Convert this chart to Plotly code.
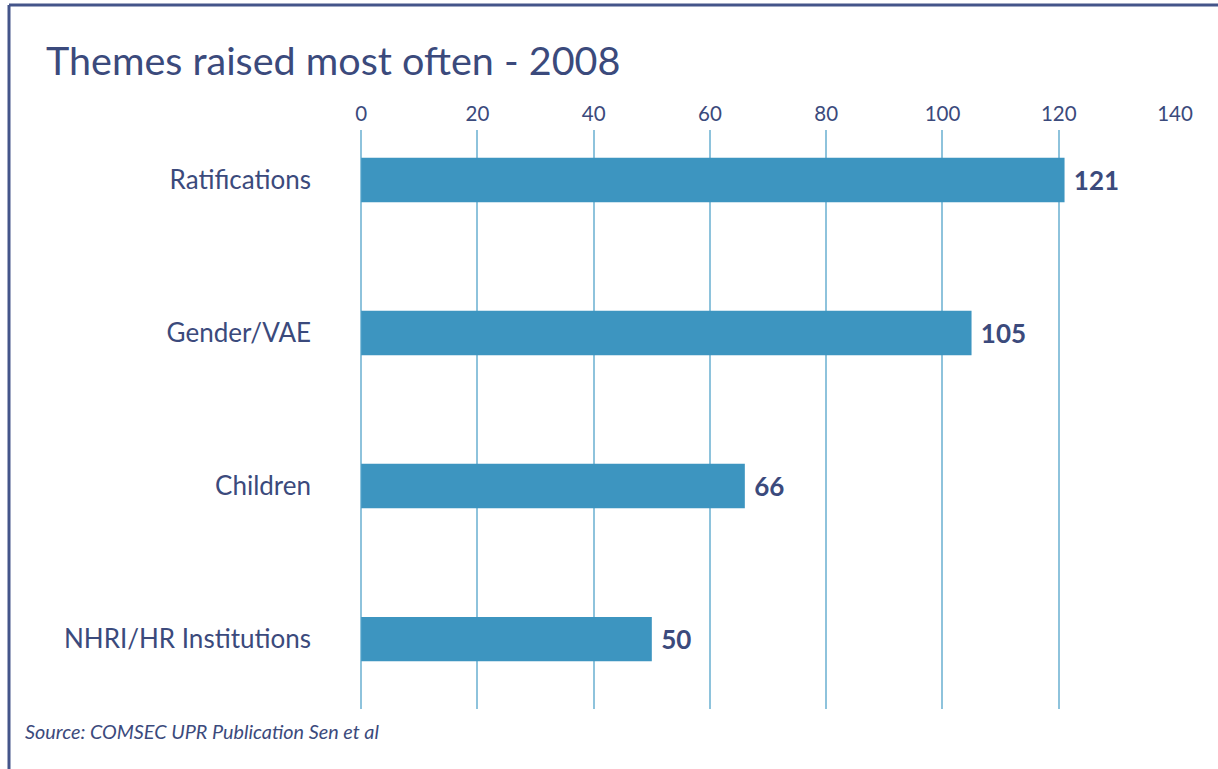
import plotly.graph_objects as go

categories = ["Ratifications", "Gender/VAE", "Children", "NHRI/HR Institutions"]
values = [121, 105, 66, 50]
tick_vals = [0, 20, 40, 60, 80, 100, 120, 140]

NAVY = "#3b4a7c"
BAR = "#3d95c0"
GRID = "#8ec3dc"
FONT = "Lato"

W, H = 1218, 769
L, R, T, B = 360, 1175, 130, 709

fig = go.Figure(go.Bar(
    x=values, y=categories, orientation="h",
    marker=dict(color=BAR, line=dict(width=0)),
    width=0.29,
    text=[f" {v}" for v in values], textposition="outside",
    textfont=dict(family=FONT, size=26, color=NAVY, weight="bold"),
    cliponaxis=False,
))

def px(x):
    return (x - L) / (R - L)

def py(y):
    return (B - y) / (B - T)

fig.update_layout(
    width=W, height=H,
    margin=dict(l=L, r=W - R, t=T, b=H - B, autoexpand=False),
    paper_bgcolor="white", plot_bgcolor="white",
    showlegend=False,
    font=dict(family=FONT, color=NAVY),
    xaxis=dict(range=[-0.2, 140], side="top", tickvals=tick_vals,
               showgrid=True, gridcolor=GRID, gridwidth=2,
               zeroline=False, showline=False, ticks="",
               tickfont=dict(family=FONT, size=20.5, color=NAVY),
               ticklabelstandoff=4, fixedrange=True),
    yaxis=dict(range=[3.457, -0.327], showgrid=False, zeroline=False,
               showline=False, ticks="",
               tickfont=dict(family=FONT, size=26, color=NAVY),
               ticklabelstandoff=48, fixedrange=True),
    shapes=[
        dict(type="line", xref="paper", yref="paper", x0=px(9), x1=px(1220),
             y0=py(5), y1=py(5), line=dict(color="#44558a", width=3)),
        dict(type="line", xref="paper", yref="paper", x0=px(9), x1=px(9),
             y0=py(5), y1=py(770), line=dict(color="#44558a", width=3)),
    ],
    annotations=[
        dict(text="Themes raised most often - 2008", xref="paper", yref="paper",
             x=px(44), y=py(60), xanchor="left", yanchor="middle", showarrow=False,
             font=dict(family=FONT, size=39.5, color=NAVY)),
        dict(text="<i>Source: COMSEC UPR Publication Sen et al</i>", xref="paper", yref="paper",
             x=px(23), y=py(731), xanchor="left", yanchor="middle", showarrow=False,
             font=dict(family=FONT, size=19.8, color=NAVY)),
    ],
)

fig.write_html("out.html", config={"displayModeBar": False},
               post_script="document.body.style.margin='0';document.body.style.overflow='hidden';")
